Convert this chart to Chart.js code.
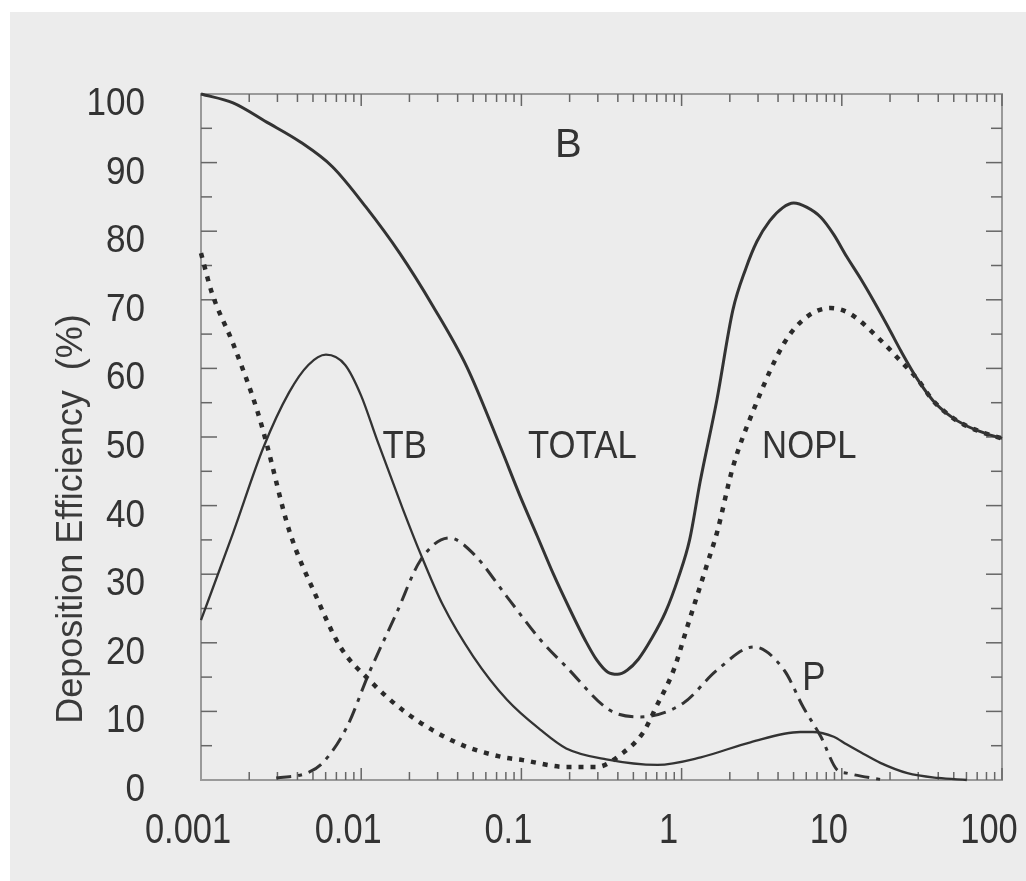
<!DOCTYPE html>
<html><head><meta charset="utf-8">
<script src="https://cdn.jsdelivr.net/npm/chart.js@4.4.1/dist/chart.umd.min.js"></script>
<style>
html,body{margin:0;padding:0;background:#fff;}
#wrap{position:relative;width:1026px;height:881px;}
canvas{display:block;}
</style></head><body>
<div id="wrap"><canvas id="c" width="1026" height="881"></canvas></div>
<script>
// ---- data (particle diameter in µm vs deposition efficiency %) ----
const totalX = [0.001,0.001585,0.00257,0.00417,0.00661,0.01072,0.01738,0.02818,0.04571,0.07413,0.09772,0.1259,0.1585,0.1995,0.2512,0.2951,0.3467,0.3981,0.4571,0.537,0.6457,0.7943,0.955,1.122,1.306,1.66,2.089,2.512,2.951,3.548,4.266,5.012,6.026,7.413,8.913,10.72,13.18,15.85,19.5,23.44,29.51,37.15,47.86,60.26,79.43,100];
const totalY = [100,98.7,95.9,93.0,89.4,83.5,76.8,69.0,60.2,48.5,41.5,35.5,30.0,25.0,20.3,17.5,15.7,15.4,16.0,17.6,20.5,24.5,29.5,35.0,43.5,55.4,68.5,74.5,78.5,81.5,83.4,84.1,83.5,82.0,79.5,76.3,73.0,69.8,66.0,62.5,58.5,55.3,53.0,51.6,50.5,49.8];

const noplX = [0.001,0.00117,0.00158,0.00224,0.00257,0.00355,0.00525,0.00741,0.0112,0.0191,0.0398,0.0741,0.102,0.1905,0.295,0.427,0.575,0.692,0.891,1.084,1.445,1.66,2.09,2.82,4.37,6.03,8.51,11.2,18.2,23.44,29.51,37.15,47.86,60.26,79.43,100];
const noplY = [76.8,71.0,63.7,53.9,49.0,36.4,26.7,19.4,14.6,9.8,5.4,3.4,2.9,1.9,1.9,3.9,6.9,10.6,16.0,22.3,31.5,36.0,45.6,54.0,63.7,67.5,68.8,68.0,63.7,61.0,58.5,55.3,53.0,51.6,50.5,49.8];

const tbX = [0.001,0.001585,0.002455,0.003548,0.004677,0.006026,0.007943,0.01,0.01259,0.0182,0.02344,0.03236,0.0501,0.0813,0.1318,0.1905,0.339,0.708,1.318,2.69,5.5,6.61,8.91,10.7,13.2,17.4,25.7,39.8,60.3];
const tbY = [23.3,36.0,48.5,56.5,60.5,62.0,60.5,56.0,49.5,39.5,33.0,25.5,18.0,11.7,7.3,4.6,3.0,2.2,3.3,5.5,7.0,7.0,6.3,5.2,4.0,2.5,1.0,0.3,0.0];

const pX = [0.00295,0.00457,0.00575,0.00813,0.0112,0.0166,0.0234,0.0355,0.0501,0.0813,0.1318,0.1905,0.355,0.55,1.023,1.66,2.82,4.37,5.75,7.41,9.33,10.7,18.2];
const pY = [0.3,1.0,2.5,7.7,15.6,24.3,32.0,35.3,33.0,26.7,20.4,16.5,10.2,9.2,11.2,16.0,19.4,16.0,10.6,6.3,1.5,1.0,0.0];

const xTickValues = [0.001,0.01,0.1,1,10,100];
const xTickLabels = ['0.001','0.01','0.1','1','10','100'];
const yTickValues = [0,10,20,30,40,50,60,70,80,90,100];
const yTickLabels = ['0','10','20','30','40','50','60','70','80','90','100'];
const yTitle = 'Deposition Efficiency  (%)';

const annotTexts = ['B','TB','TOTAL','NOPL','P'];
const annotX = [0.162,0.0136,0.11,3.18,5.66];
const annotY = [90.8,46.9,46.9,46.9,13.1];

// ---- styling ----
const INK = '#333333';
const REG = '"Liberation Sans", Arial, sans-serif';

const pts = (xs, ys) => xs.map((x, i) => ({x: x, y: ys[i]}));

function drawScaled(ctx, text, x, y, size, sx, align) {
  ctx.save();
  ctx.translate(x, y);
  ctx.scale(sx, 1);
  ctx.font = size + 'px ' + REG;
  ctx.textAlign = align;
  ctx.textBaseline = 'alphabetic';
  ctx.fillText(text, 0, 0);
  ctx.restore();
}

const bgPlugin = {
  id: 'bg',
  beforeDraw(chart) {
    const ctx = chart.ctx;
    ctx.save();
    ctx.fillStyle = '#ffffff';
    ctx.fillRect(0, 0, chart.width, chart.height);
    ctx.fillStyle = '#ececec';
    ctx.fillRect(10, 12, chart.width - 10, chart.height - 12);
    ctx.restore();
  }
};

const framePlugin = {
  id: 'frame',
  beforeDatasetsDraw(chart) {
    const {ctx, chartArea: {left, right, top, bottom}, scales: {x, y}} = chart;
    const line = (a, b, c, d) => { ctx.beginPath(); ctx.moveTo(a, b); ctx.lineTo(c, d); ctx.stroke(); };
    ctx.save();
    ctx.strokeStyle = '#9a9a9a';
    ctx.lineWidth = 2;
    ctx.strokeRect(left, top, right - left, bottom - top);
    ctx.strokeStyle = '#666';
    ctx.lineWidth = 1.5;
    for (let v = 5; v < 100; v += 5) {
      const py = y.getPixelForValue(v);
      const L = (v % 10 === 0) ? 16 : 11;
      line(left, py, left + L, py);
      line(right, py, right - L, py);
    }
    for (let e = -3; e < 2; e++) {
      for (let m = 2; m <= 10; m++) {
        const v = m * Math.pow(10, e);
        const px = x.getPixelForValue(v);
        const L = (m === 10) ? 12 : 8;
        line(px, top, px, top + L);
        line(px, bottom, px, bottom - L);
      }
    }
    ctx.restore();
  }
};

const textPlugin = {
  id: 'texts',
  afterDatasetsDraw(chart) {
    const {ctx, chartArea, scales: {x, y}} = chart;
    ctx.save();
    ctx.fillStyle = INK;
    // tick labels (condensed face, as in the scanned figure)
    x.ticks.forEach((t) => {
      const i = xTickValues.indexOf(t.value);
      if (i < 0) return;
      drawScaled(ctx, xTickLabels[i], x.getPixelForValue(t.value) - 13, chartArea.bottom + 63, 42, 0.82, 'center');
    });
    y.ticks.forEach((t) => {
      const i = yTickValues.indexOf(t.value);
      if (i < 0) return;
      drawScaled(ctx, yTickLabels[i], chartArea.left - 56, y.getPixelForValue(t.value) + 21, 39, 0.9, 'right');
    });
    // curve annotations
    annotTexts.forEach((t, i) => {
      const px = x.getPixelForValue(annotX[i]);
      const py = y.getPixelForValue(annotY[i]);
      if (t === 'B') drawScaled(ctx, t, px, py, 40, 1.0, 'left');
      else if (t === 'P') drawScaled(ctx, t, px, py, 41, 0.85, 'left');
      else drawScaled(ctx, t, px, py, 39, 0.89, 'left');
    });
    // y axis title
    ctx.translate(72, 519);
    ctx.rotate(-Math.PI / 2);
    ctx.font = '36px ' + REG;
    ctx.fillStyle = '#3a3a3a';
    ctx.textAlign = 'center';
    ctx.textBaseline = 'middle';
    ctx.fillText(yTitle, 0, 0);
    ctx.restore();
  }
};

const common = {pointRadius: 0, borderColor: INK, fill: false, cubicInterpolationMode: 'monotone', clip: false};

new Chart(document.getElementById('c'), {
  type: 'line',
  data: {
    datasets: [
      Object.assign({label: 'TOTAL', data: pts(totalX, totalY), borderWidth: 3}, common),
      Object.assign({label: 'TB', data: pts(tbX, tbY), borderWidth: 2.3}, common),
      Object.assign({label: 'NOPL', data: pts(noplX, noplY), borderWidth: 4.5, borderDash: [5, 7]}, common, {borderColor: '#2a2a2a'}),
      Object.assign({label: 'P', data: pts(pX, pY), borderWidth: 3, borderDash: [15, 7, 4, 7]}, common)
    ]
  },
  options: {
    responsive: false,
    animation: false,
    layout: {padding: {top: 94, right: 24, left: 0, bottom: 0}},
    plugins: {legend: {display: false}, tooltip: {enabled: false}},
    scales: {
      x: {
        type: 'logarithmic', min: 0.001, max: 100,
        grid: {display: false, drawTicks: false},
        border: {display: false},
        afterBuildTicks: s => { s.ticks = xTickValues.map(v => ({value: v})); },
        afterFit: s => { s.height = 101; s.paddingLeft = 0; s.paddingRight = 0; },
        ticks: {display: false, autoSkip: false}
      },
      y: {
        type: 'linear', min: 0, max: 100,
        grid: {display: false, drawTicks: false},
        border: {display: false},
        afterBuildTicks: s => { s.ticks = yTickValues.map(v => ({value: v})); },
        afterFit: s => { s.width = 201; s.paddingTop = 0; s.paddingBottom = 0; },
        ticks: {display: false, autoSkip: false}
      }
    }
  },
  plugins: [bgPlugin, framePlugin, textPlugin]
});
</script>
</body></html>
